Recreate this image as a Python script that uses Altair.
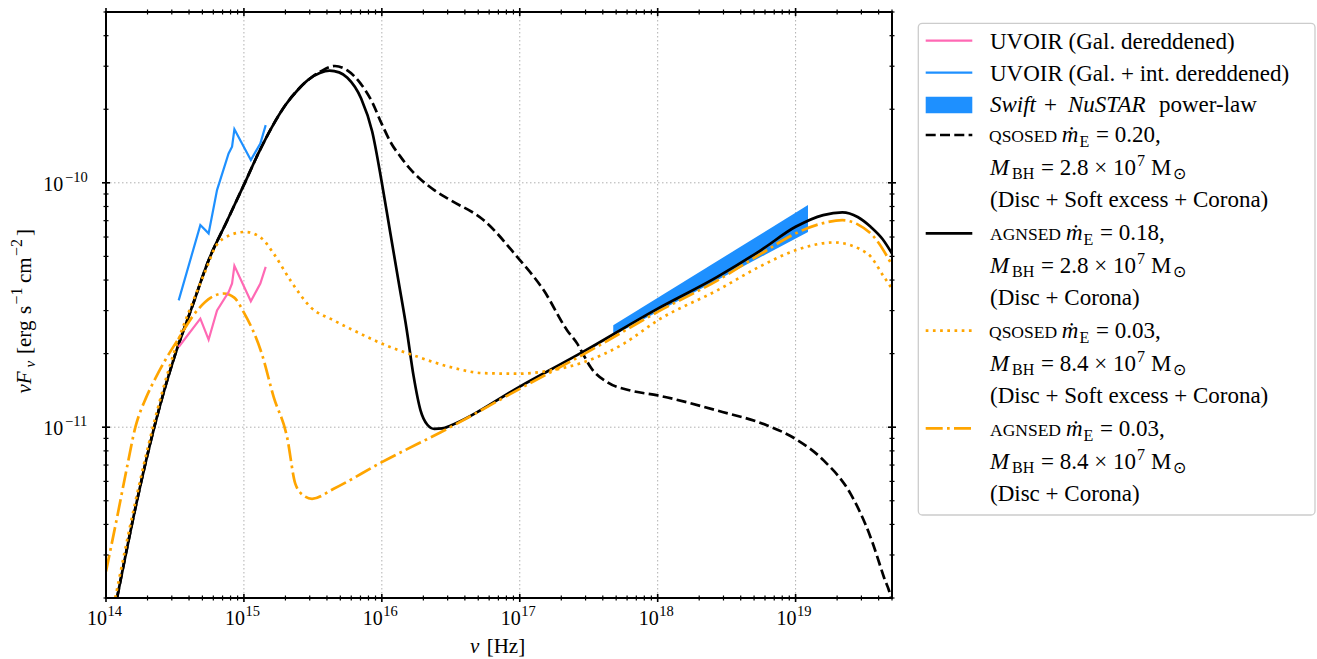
import altair as alt
import pandas as pd
import numpy as np

W, H = 786, 586
OX, OY = 106, 12
FONT = "Liberation Serif"
XDOM = [1e14, 5e19]
YDOM = [2e-12, 5e-10]

# ---------------- data (log10 nu [Hz], log10 nuFnu) ----------------
uv_lognu = [14.527, 14.684, 14.744, 14.805, 14.889, 14.914, 14.931, 15.050, 15.119, 15.158]
uv_gal_logf = [-10.672, -10.556, -10.642, -10.522, -10.447, -10.412, -10.340, -10.485, -10.412, -10.344]
uv_int_logf = [-10.481, -10.173, -10.207, -10.030, -9.880, -9.852, -9.781, -9.907, -9.839, -9.764]

band_lognu = [17.678, 19.09]
band_lo = [-10.625, -10.201]
band_hi = [-10.583, -10.091]

qso20_lognu = [14.08, 14.225, 14.35, 14.503, 14.62, 14.744, 14.88, 15.01, 15.10, 15.20, 15.30, 15.40,
               15.48, 15.56, 15.66, 15.75, 15.845, 15.93, 16.0, 16.07, 16.135, 16.2, 16.28, 16.38,
               16.498, 16.739, 16.981, 17.174, 17.344, 17.417, 17.464, 17.513, 17.634, 17.803, 18.0,
               18.432, 18.795, 19.0, 19.205, 19.399, 19.544, 19.641, 19.69, 19.72]
qso20_logf = [-11.699, -11.30, -11.0, -10.70, -10.514, -10.317, -10.153, -9.996, -9.885, -9.775, -9.683,
              -9.614, -9.573, -9.543, -9.522, -9.54, -9.593, -9.67, -9.76, -9.84, -9.893, -9.94, -9.985,
              -10.03, -10.071, -10.153, -10.303, -10.44, -10.604, -10.658, -10.706, -10.754, -10.816,
              -10.85, -10.870, -10.932, -10.993, -11.048, -11.137, -11.273, -11.451, -11.615, -11.697,
              -11.80]

agn18_lognu = [14.08, 14.225, 14.35, 14.503, 14.62, 14.744, 14.88, 15.01, 15.10, 15.20, 15.30, 15.40,
               15.48, 15.55, 15.62, 15.69, 15.75, 15.85, 15.93, 16.0, 16.06, 16.12, 16.18, 16.23,
               16.28, 16.33, 16.38, 16.44, 16.5, 17.0, 17.464, 18.0, 18.432, 18.75, 19.0, 19.2, 19.339,
               19.45, 19.544, 19.63, 19.706]
agn18_logf = [-11.699, -11.30, -11.0, -10.70, -10.514, -10.317, -10.153, -9.996, -9.885, -9.775, -9.683,
              -9.614, -9.573, -9.551, -9.541, -9.548, -9.57, -9.655, -9.79, -10.0, -10.2, -10.40, -10.6,
              -10.79, -10.93, -10.99, -11.007, -11.005, -10.993, -10.834, -10.69, -10.515, -10.385,
              -10.275, -10.18, -10.132, -10.121, -10.14, -10.18, -10.23, -10.296]

qso03_lognu = [14.067, 14.215, 14.34, 14.49, 14.62, 14.733, 14.793, 14.90, 15.01, 15.13, 15.216, 15.337,
               15.482, 15.651, 15.796, 16.0, 16.25, 16.498, 16.739, 16.981, 17.223, 17.464, 17.755, 18.0,
               18.432, 18.75, 19.0, 19.278, 19.52, 19.641, 19.706]
qso03_logf = [-11.699, -11.30, -11.0, -10.70, -10.50, -10.344, -10.262, -10.214, -10.201, -10.228, -10.29,
              -10.399, -10.508, -10.563, -10.604, -10.658, -10.71, -10.754, -10.779, -10.781, -10.768,
              -10.734, -10.658, -10.563, -10.44, -10.34, -10.276, -10.244, -10.289, -10.385, -10.44]

agn03_lognu = [14.0, 14.08, 14.15, 14.213, 14.29, 14.358, 14.43, 14.503, 14.672, 14.76, 14.853, 14.93,
               14.998, 15.13, 15.216, 15.313, 15.373, 15.433, 15.494, 15.651, 16.0, 16.473, 17.0, 17.5,
               18.0, 18.432, 18.75, 19.0, 19.2, 19.339, 19.45, 19.568, 19.706]
agn03_logf = [-11.59, -11.37, -11.17, -11.0, -10.88, -10.80, -10.725, -10.658, -10.515, -10.47, -10.453,
              -10.47, -10.529, -10.70, -10.877, -11.041, -11.232, -11.28, -11.293, -11.252, -11.143,
              -11.007, -10.843, -10.69, -10.528, -10.40, -10.29, -10.207, -10.165, -10.153, -10.17,
              -10.221, -10.344]

xmajor_exp = [14, 15, 16, 17, 18, 19]
ymajor_exp = [-11, -10]

# ---------------- helpers ----------------
xs = alt.Scale(type="log", domain=XDOM, nice=False)
ys = alt.Scale(type="log", domain=YDOM, nice=False)


def X(f):
    return alt.X(f"{f}:Q", scale=xs, axis=None)


def Y(f):
    return alt.Y(f"{f}:Q", scale=ys, axis=None)


one = pd.DataFrame({"a": [0]})
layers = []


def curve(lognu, logf, color, width, dash=None, interp="monotone"):
    df = pd.DataFrame({"nu": 10 ** np.array(lognu), "f": 10 ** np.array(logf)})
    kw = dict(color=color, strokeWidth=width, clip=True, interpolate=interp)
    if dash:
        kw["strokeDash"] = dash
    return alt.Chart(df).mark_line(**kw).encode(x=X("nu"), y=Y("f"))


# grid
gx = pd.DataFrame({"v": [10.0 ** e for e in xmajor_exp[1:]]})
gy = pd.DataFrame({"v": [10.0 ** e for e in ymajor_exp]})
grid_kw = dict(color="#b0b0b0", strokeWidth=1, strokeDash=[1.5, 2.5])
layers.append(alt.Chart(gx).mark_rule(**grid_kw).encode(x=X("v"), y=alt.value(0), y2=alt.value(H)))
layers.append(alt.Chart(gy).mark_rule(**grid_kw).encode(y=Y("v"), x=alt.value(0), x2=alt.value(W)))

# band
bdf = pd.DataFrame({"nu": 10 ** np.array(band_lognu), "lo": 10 ** np.array(band_lo),
                    "hi": 10 ** np.array(band_hi)})
layers.append(alt.Chart(bdf).mark_area(color="#1E90FF", opacity=1, clip=True).encode(
    x=X("nu"), y=Y("lo"), y2="hi:Q"))

LW = 2.7
layers.append(curve(qso20_lognu, qso20_logf, "black", LW, [10, 4.3]))
layers.append(curve(agn18_lognu, agn18_logf, "black", LW))
layers.append(curve(qso03_lognu, qso03_logf, "#FFA500", LW, [2.7, 4.5]))
layers.append(curve(agn03_lognu, agn03_logf, "#FFA500", LW, [17, 4.3, 2.7, 4.3]))
layers.append(curve(uv_lognu, uv_gal_logf, "#FF69B4", 2.2, interp="linear"))
layers.append(curve(uv_lognu, uv_int_logf, "#1E90FF", 2.2, interp="linear"))

# ticks (in-out)
xmaj = pd.DataFrame({"v": [10.0 ** e for e in xmajor_exp]})
xmin = pd.DataFrame({"v": [m * 10.0 ** e for e in range(14, 20) for m in range(2, 10)
                           if m * 10.0 ** e <= 5.0001e19]})
ymaj = pd.DataFrame({"v": [10.0 ** e for e in ymajor_exp]})
ymin = pd.DataFrame({"v": [m * 10.0 ** e for e in (-12, -11, -10) for m in range(2, 10)
                           if 1.999e-12 <= m * 10.0 ** e <= 5.0001e-10]})
for df, L, sw in [(xmaj, 4, 1.6), (xmin, 2.5, 1.2)]:
    layers.append(alt.Chart(df).mark_rule(color="black", strokeWidth=sw).encode(
        x=X("v"), y=alt.value(H - L), y2=alt.value(H + L)))
    layers.append(alt.Chart(df).mark_rule(color="black", strokeWidth=sw).encode(
        x=X("v"), y=alt.value(-L), y2=alt.value(L)))
for df, L, sw in [(ymaj, 4, 1.6), (ymin, 2.5, 1.2)]:
    layers.append(alt.Chart(df).mark_rule(color="black", strokeWidth=sw).encode(
        y=Y("v"), x=alt.value(-L), x2=alt.value(L)))
    layers.append(alt.Chart(df).mark_rule(color="black", strokeWidth=sw).encode(
        y=Y("v"), x=alt.value(W - L), x2=alt.value(W + L)))

# frame
layers.append(alt.Chart(one).mark_rect(filled=False, stroke="black", strokeWidth=2).encode(
    x=alt.value(0), x2=alt.value(W), y=alt.value(0), y2=alt.value(H)))

# tick labels
xl = pd.DataFrame({"v": [10.0 ** e for e in xmajor_exp], "e": [str(e) for e in xmajor_exp]})
layers.append(alt.Chart(xl).mark_text(align="right", baseline="alphabetic", dx=1, font=FONT,
                                      fontSize=20, color="black").encode(
    x=X("v"), y=alt.value(H + 27.3), text=alt.value("10")))
layers.append(alt.Chart(xl).mark_text(align="left", baseline="alphabetic", dx=1.5, font=FONT,
                                      fontSize=14.5, color="black").encode(
    x=X("v"), y=alt.value(H + 18), text="e:N"))
yl = pd.DataFrame({"v": [10.0 ** e for e in ymajor_exp],
                   "e": ["\u2212" + str(-e) for e in ymajor_exp]})
layers.append(alt.Chart(yl).mark_text(align="right", baseline="alphabetic", dy=8, font=FONT,
                                      fontSize=20, color="black").encode(
    y=Y("v"), x=alt.value(63.3 - OX), text=alt.value("10")))
layers.append(alt.Chart(yl).mark_text(align="left", baseline="alphabetic", dy=-1, font=FONT,
                                      fontSize=14.5, color="black").encode(
    y=Y("v"), x=alt.value(65 - OX), text="e:N"))


def texts(rows, size, style="normal", angle=0):
    df = pd.DataFrame({"px": [r[0] - OX for r in rows], "py": [r[1] - OY for r in rows],
                       "t": [r[2] for r in rows]})
    return alt.Chart(df).mark_text(align="left", baseline="alphabetic", font=FONT, fontSize=size,
                                   fontStyle=style, angle=angle, color="black").encode(
        x=alt.X("px:Q", scale=None, axis=None), y=alt.Y("py:Q", scale=None, axis=None), text="t:N")


# axis titles
layers.append(texts([(470, 653, "ν")], 21, "italic"))
layers.append(texts([(486.7, 653, "[Hz]")], 21))
layers.append(texts([(31, 393.5, "νF")], 21, "italic", 270))
layers.append(texts([(35, 367.5, "ν")], 15, "italic", 270))
layers.append(texts([(31, 354, "[erg"), (31, 314, "s"), (31, 283, "cm"), (31, 236, "]")], 21, "normal", 270))
layers.append(texts([(22, 304.5, "\u22121"), (22, 256, "\u22122")], 16, "normal", 270))

# legend box
layers.append(alt.Chart(one).mark_rect(fill="white", stroke="#cccccc", strokeWidth=1.3,
                                       cornerRadius=4).encode(
    x=alt.value(918.3 - OX), x2=alt.value(1315 - OX), y=alt.value(23.3 - OY), y2=alt.value(515 - OY)))

SX1, SX2 = 925.7 - OX, 972.3 - OX


def sym(y, color, width, dash=None):
    kw = dict(color=color, strokeWidth=width)
    if dash:
        kw["strokeDash"] = dash
    return alt.Chart(one).mark_rule(**kw).encode(
        x=alt.value(SX1), x2=alt.value(SX2), y=alt.value(y - OY))


layers.append(sym(40.7, "#FF69B4", 2.2))
layers.append(sym(72.7, "#1E90FF", 2.2))
layers.append(alt.Chart(one).mark_rect(color="#1E90FF").encode(
    x=alt.value(SX1), x2=alt.value(SX2), y=alt.value(96.7 - OY), y2=alt.value(113.3 - OY)))
layers.append(sym(135, "black", LW, [10, 4.3]))
layers.append(sym(233.3, "black", LW))
layers.append(sym(330.7, "#FFA500", LW, [2.7, 4.5]))
layers.append(sym(428.3, "#FFA500", LW, [17, 4.3, 2.7, 4.3]))

B = [48.5, 80.5, 111.5, 142, 174.5, 207, 240, 272.5, 305, 338, 370.5, 403, 436, 468.5, 501]
MB = (B[4], B[7], B[10], B[13])
leg_normal = [
    (990, B[0], "UVOIR (Gal. dereddened)"),
    (990, B[1], "UVOIR (Gal. + int. dereddened)"),
    (1044, B[2], "+"), (1159, B[2], "power-law"),
    (1096, B[3], "= 0.20,"),
    (990, B[5], "(Disc + Soft excess + Corona)"),
    (1100, B[6], "= 0.18,"),
    (990, B[8], "(Disc + Corona)"),
    (1096, B[9], "= 0.03,"),
    (990, B[11], "(Disc + Soft excess + Corona)"),
    (1100, B[12], "= 0.03,"),
    (990, B[14], "(Disc + Corona)"),
]
for b, mass in zip(MB, ["2.8", "2.8", "8.4", "8.4"]):
    leg_normal += [(1041, b, "= " + mass + " × 10"), (1151, b, "M")]
leg_italic = [
    (990, B[2], "Swift"), (1068, B[2], "NuSTAR"),
    (1061.7, B[3], "ṁ"), (1066, B[6], "ṁ"), (1061.7, B[9], "ṁ"), (1066, B[12], "ṁ"),
] + [(990, b, "M") for b in MB]
leg_sc = [(989, B[3], "QSOSED"), (990, B[6], "AGNSED"), (989, B[9], "QSOSED"), (990, B[12], "AGNSED")]
leg_sub = [(1079.5, B[3] + 4.5, "E"), (1083.5, B[6] + 4.5, "E"), (1079.5, B[9] + 4.5, "E"),
           (1083.5, B[12] + 4.5, "E")]
for b in MB:
    leg_sub += [(1012, b + 4.5, "BH"), (1172.5, b + 4.5, "⊙")]
leg_sup = [(1137, b - 8.5, "7") for b in MB]

layers.append(texts(leg_normal, 23))
layers.append(texts(leg_italic, 23, "italic"))
layers.append(texts(leg_sc, 17.5))
layers.append(texts(leg_sub, 16))
layers.append(texts(leg_sup, 16))

chart = alt.layer(*layers).properties(
    width=W, height=H,
    autosize=alt.AutoSizeParams(type="none"),
    padding={"left": OX, "top": OY, "right": 1317 - OX - W, "bottom": 659 - OY - H},
    background="white",
).configure_view(stroke="transparent")

chart.save("out.html", embed_options={"renderer": "svg", "actions": False})
